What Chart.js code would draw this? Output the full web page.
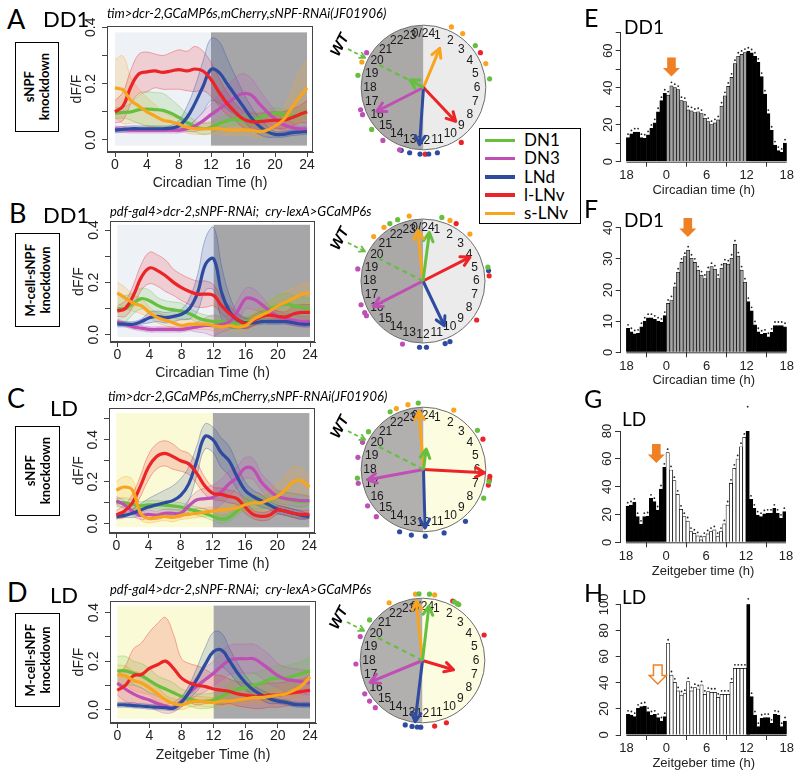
<!DOCTYPE html>
<html><head><meta charset="utf-8">
<script src="https://cdn.jsdelivr.net/npm/chart.js@4.4.1/dist/chart.umd.min.js"></script>
<style>
body{margin:0;background:#fff;}
#fig{position:relative;width:800px;height:776px;overflow:hidden;background:#fff;font-family:"Liberation Sans",Arial,sans-serif;}
.t{position:absolute;white-space:nowrap;line-height:1;color:#000;}
.lab{font-family:Lato,"Open Sans",sans-serif;}
.sub{font-family:Lato,"Open Sans",sans-serif;font-style:italic;font-size:13px;}
.kbox{position:absolute;border:1.5px solid #000;box-sizing:border-box;display:flex;align-items:center;justify-content:center;background:#fff;}
.kbox div{writing-mode:vertical-rl;transform:rotate(180deg);font-family:Lato,"Open Sans",sans-serif;font-weight:bold;font-size:13px;line-height:15px;text-align:center;}
</style></head><body><div id="fig"></div>
<script>
// ---------------- DATA ----------------
const hours = [0,1,2,3,4,5,6,7,8,9,10,11,12,13,14,15,16,17,18,19,20,21,22,23,24];
const seriesNames = ['DN1','DN3','LNd','l-LNv','s-LNv'];
const lineXTicks = [0,4,8,12,16,20,24];

// Panel A (DD1, tim>..., sNPF knockdown)
const A_DN1  = [0.095,0.098,0.10,0.108,0.11,0.108,0.105,0.095,0.08,0.062,0.048,0.04,0.045,0.058,0.068,0.073,0.07,0.07,0.078,0.088,0.095,0.09,0.085,0.09,0.1];
const A_DN3  = [0.04,0.037,0.035,0.035,0.035,0.035,0.035,0.035,0.035,0.04,0.05,0.068,0.09,0.11,0.13,0.15,0.165,0.16,0.13,0.1,0.075,0.055,0.045,0.04,0.04];
const A_LNd  = [0.035,0.038,0.04,0.04,0.04,0.04,0.04,0.042,0.05,0.08,0.13,0.19,0.25,0.24,0.2,0.16,0.12,0.08,0.05,0.03,0.02,0.02,0.025,0.028,0.03];
const A_lLNv = [0.1,0.12,0.19,0.235,0.242,0.245,0.24,0.245,0.25,0.245,0.252,0.245,0.215,0.17,0.13,0.1,0.075,0.065,0.065,0.068,0.07,0.07,0.078,0.09,0.1];
const A_sLNv = [0.185,0.178,0.14,0.12,0.1,0.085,0.07,0.065,0.056,0.045,0.04,0.04,0.04,0.04,0.036,0.035,0.036,0.035,0.03,0.035,0.05,0.07,0.11,0.15,0.185];
const A_semDN1  = [0.02,0.02,0.03,0.05,0.06,0.06,0.06,0.05,0.04,0.03,0.02,0.02,0.02,0.02,0.02,0.02,0.02,0.02,0.02,0.02,0.02,0.02,0.02,0.02,0.02];
const A_semDN3  = [0.01,0.01,0.01,0.01,0.01,0.01,0.01,0.01,0.01,0.01,0.02,0.03,0.04,0.05,0.06,0.07,0.07,0.06,0.05,0.04,0.03,0.02,0.02,0.01,0.01];
const A_semLNd  = [0.01,0.01,0.01,0.01,0.01,0.01,0.01,0.01,0.02,0.04,0.06,0.09,0.11,0.11,0.09,0.07,0.05,0.04,0.03,0.02,0.01,0.01,0.01,0.01,0.01];
const A_semlLNv = [0.04,0.05,0.06,0.07,0.07,0.06,0.06,0.065,0.07,0.07,0.08,0.07,0.06,0.05,0.04,0.03,0.03,0.03,0.03,0.03,0.03,0.03,0.03,0.03,0.04];
const A_semsLNv = [0.1,0.12,0.08,0.06,0.05,0.04,0.03,0.02,0.02,0.02,0.02,0.02,0.02,0.02,0.02,0.02,0.02,0.02,0.02,0.02,0.03,0.04,0.06,0.09,0.1];

// Panel B (DD1, pdf-gal4>..., M-cell-sNPF knockdown)
const B_DN1  = [0.1,0.1,0.12,0.138,0.13,0.112,0.1,0.095,0.09,0.08,0.065,0.055,0.05,0.05,0.045,0.04,0.05,0.06,0.08,0.1,0.11,0.118,0.11,0.105,0.1];
const B_DN3  = [0.05,0.04,0.03,0.025,0.02,0.02,0.02,0.02,0.02,0.025,0.03,0.035,0.035,0.04,0.05,0.09,0.138,0.135,0.115,0.09,0.07,0.06,0.055,0.05,0.05];
const B_LNd  = [0.04,0.04,0.04,0.05,0.065,0.07,0.065,0.07,0.078,0.1,0.16,0.27,0.29,0.16,0.087,0.055,0.045,0.045,0.05,0.05,0.05,0.05,0.045,0.04,0.04];
const B_lLNv = [0.09,0.1,0.15,0.22,0.255,0.245,0.225,0.2,0.18,0.165,0.155,0.155,0.15,0.11,0.08,0.058,0.042,0.055,0.07,0.075,0.07,0.068,0.08,0.085,0.085];
const B_sLNv = [0.16,0.14,0.12,0.11,0.085,0.065,0.055,0.045,0.035,0.04,0.04,0.04,0.035,0.03,0.035,0.03,0.035,0.06,0.075,0.09,0.11,0.125,0.14,0.155,0.16];
const B_semDN1  = [0.05,0.05,0.04,0.04,0.04,0.03,0.03,0.03,0.03,0.02,0.02,0.02,0.02,0.02,0.02,0.02,0.02,0.02,0.03,0.03,0.04,0.04,0.04,0.04,0.04];
const B_semDN3  = [0.01,0.01,0.01,0.01,0.01,0.01,0.01,0.01,0.01,0.01,0.02,0.03,0.04,0.03,0.03,0.04,0.04,0.04,0.03,0.02,0.02,0.02,0.02,0.02,0.02];
const B_semLNd  = [0.01,0.01,0.01,0.01,0.02,0.02,0.02,0.02,0.02,0.04,0.07,0.1,0.12,0.1,0.06,0.03,0.02,0.01,0.01,0.01,0.01,0.01,0.01,0.01,0.01];
const B_semlLNv = [0.02,0.03,0.04,0.05,0.06,0.06,0.06,0.05,0.05,0.05,0.05,0.05,0.04,0.03,0.03,0.02,0.02,0.02,0.02,0.02,0.02,0.02,0.03,0.03,0.03];
const B_semsLNv = [0.04,0.04,0.03,0.03,0.02,0.02,0.02,0.02,0.02,0.02,0.02,0.02,0.02,0.02,0.02,0.02,0.02,0.03,0.03,0.04,0.04,0.04,0.04,0.04,0.04];

// Panel C (LD, tim>..., sNPF knockdown)
const C_DN1  = [0.1,0.1,0.092,0.085,0.09,0.09,0.088,0.085,0.08,0.07,0.06,0.05,0.035,0.022,0.03,0.06,0.095,0.1,0.1,0.11,0.125,0.12,0.11,0.105,0.105];
const C_DN3  = [0.11,0.09,0.06,0.04,0.045,0.04,0.05,0.05,0.05,0.085,0.114,0.12,0.125,0.15,0.19,0.22,0.265,0.26,0.2,0.16,0.13,0.12,0.115,0.11,0.11];
const C_LNd  = [0.035,0.04,0.05,0.065,0.08,0.09,0.1,0.11,0.135,0.19,0.3,0.415,0.4,0.34,0.3,0.225,0.16,0.13,0.11,0.09,0.07,0.06,0.05,0.04,0.035];
const C_lLNv = [0.043,0.06,0.1,0.18,0.27,0.32,0.335,0.32,0.3,0.285,0.24,0.18,0.145,0.14,0.13,0.12,0.08,0.045,0.035,0.04,0.065,0.06,0.05,0.045,0.045];
const C_sLNv = [0.16,0.175,0.16,0.05,0.025,0.03,0.035,0.03,0.04,0.045,0.05,0.055,0.06,0.065,0.07,0.075,0.09,0.1,0.1,0.115,0.13,0.16,0.2,0.205,0.175];
const C_semDN1  = [0.02,0.02,0.02,0.02,0.02,0.02,0.02,0.02,0.02,0.02,0.02,0.02,0.02,0.02,0.02,0.02,0.03,0.03,0.03,0.03,0.03,0.03,0.03,0.03,0.03];
const C_semDN3  = [0.02,0.02,0.02,0.02,0.02,0.02,0.02,0.02,0.02,0.03,0.04,0.05,0.06,0.06,0.06,0.05,0.05,0.05,0.04,0.04,0.03,0.03,0.03,0.03,0.02];
const C_semLNd  = [0.01,0.01,0.02,0.03,0.04,0.05,0.06,0.07,0.08,0.08,0.07,0.06,0.06,0.07,0.07,0.06,0.04,0.03,0.03,0.02,0.02,0.02,0.02,0.02,0.01];
const C_semlLNv = [0.02,0.03,0.04,0.05,0.06,0.06,0.06,0.06,0.05,0.05,0.05,0.04,0.03,0.03,0.03,0.03,0.03,0.02,0.02,0.02,0.02,0.02,0.02,0.02,0.02];
const C_semsLNv = [0.04,0.05,0.05,0.03,0.02,0.02,0.02,0.02,0.02,0.02,0.02,0.02,0.02,0.02,0.02,0.02,0.03,0.04,0.04,0.05,0.06,0.07,0.07,0.06,0.05];

// Panel D (LD, pdf-gal4>..., M-cell-sNPF knockdown)
const D_DN1  = [0.16,0.16,0.15,0.14,0.12,0.1,0.085,0.07,0.055,0.045,0.035,0.035,0.04,0.055,0.07,0.085,0.09,0.1,0.11,0.125,0.13,0.13,0.14,0.15,0.16];
const D_DN3  = [0.11,0.085,0.065,0.05,0.04,0.025,0.015,0.01,0.034,0.07,0.1,0.125,0.15,0.18,0.205,0.21,0.21,0.21,0.19,0.165,0.14,0.125,0.12,0.115,0.11];
const D_LNd  = [0.02,0.02,0.017,0.015,0.012,0.01,0.008,0.006,0.03,0.075,0.13,0.19,0.24,0.245,0.2,0.15,0.11,0.08,0.06,0.045,0.035,0.03,0.022,0.02,0.02];
const D_lLNv = [0.08,0.1,0.14,0.145,0.17,0.185,0.2,0.17,0.13,0.11,0.1,0.095,0.085,0.08,0.075,0.065,0.06,0.055,0.055,0.06,0.06,0.065,0.07,0.075,0.08];
const D_sLNv = [0.144,0.14,0.12,0.11,0.09,0.065,0.04,0.025,0.02,0.03,0.035,0.032,0.03,0.035,0.035,0.04,0.045,0.05,0.05,0.055,0.06,0.065,0.08,0.1,0.135];
const D_semDN1  = [0.06,0.06,0.05,0.05,0.05,0.04,0.04,0.04,0.03,0.03,0.03,0.03,0.03,0.03,0.04,0.05,0.05,0.05,0.05,0.05,0.05,0.05,0.05,0.05,0.06];
const D_semDN3  = [0.05,0.05,0.04,0.04,0.03,0.03,0.03,0.02,0.02,0.03,0.04,0.05,0.05,0.06,0.06,0.06,0.06,0.06,0.06,0.06,0.05,0.05,0.05,0.05,0.05];
const D_semLNd  = [0.01,0.01,0.01,0.01,0.01,0.01,0.01,0.01,0.02,0.03,0.05,0.07,0.08,0.07,0.05,0.04,0.03,0.02,0.02,0.02,0.01,0.01,0.01,0.01,0.01];
const D_semlLNv = [0.06,0.08,0.11,0.13,0.15,0.17,0.18,0.14,0.08,0.08,0.08,0.07,0.06,0.06,0.05,0.05,0.05,0.05,0.05,0.05,0.05,0.05,0.05,0.05,0.06];
const D_semsLNv = [0.04,0.04,0.04,0.04,0.03,0.03,0.02,0.02,0.02,0.02,0.02,0.02,0.02,0.02,0.02,0.02,0.02,0.02,0.02,0.02,0.03,0.03,0.03,0.04,0.04];

// Phase clocks: order DN1, DN3, LNd, l-LNv, s-LNv (phase in h, vector length 0..1)
const clockHourLabels = ['0/24','1','2','3','4','5','6','7','8','9','10','11','12','13','14','15','16','17','18','19','20','21','22','23'];
const wtPhase = 19.8, wtLength = 0.8;
const clockA_phase = [19.9,16.2,12.26,9.1,1.5];
const clockA_len   = [0.25,0.84,0.92,0.75,0.68];
const clockA_dots  = [[3.4,5.5,18.7,15.4],[20.1,16.7,16.4,14.5,13.4],[13.3,12.8,12.2,11.7,11.2],[3.9,9.7,11.9],[1.65,2.4,4.6,19.5]];
const clockB_phase = [0.5,16.2,10.3,4.2,23.6];
const clockB_len   = [0.79,0.9,0.8,0.85,0.82];
const clockB_dots  = [[1.1,22.0,22.5,5.2],[18.7,16.6,16.1,15.9,13.2],[5.4,10.7,10.4,12.2,11.8],[2.0,5.7,8.4],[23.2,1.6,3.0,21.6,20.8]];
const clockC_phase = [0.5,17.3,11.9,6.2,23.7];
const clockC_len   = [0.33,0.91,0.94,0.98,0.94];
const clockC_dots  = [[22.0,23.7,3.6,6.7,7.7,20.3,17.5],[19.6,18.7,17.2,15.8,15.0],[9.4,10.8,11.9,12.7,13.4],[4.2,6.4,6.6,6.9],[23.1,22.4,1.8]];
const clockD_phase = [0.45,16.5,12.46,7.1,23.6];
const clockD_len   = [0.88,0.91,0.99,0.52,0.96];
const clockD_dots  = [[23.8,0.4,1.9,2.1,2.2,20.5],[19.4,17.8,16.0,15.5,15.0],[13.0,12.6,12.3,12.1],[1.8,4.5,10.6,11.3],[22.0,23.6,0.7]];

// Activity histograms: 48 half-hour bins from 18 h (previous day) to 18 h
const histXTickPos = [0,12,24,36,48];
const histXTickLabels = ['18','0','6','12','18'];
const histE = [13,15,16,16,13,12.7,14.5,18,21,27,33,37, 36,41,40,39,33,32.5,28,27.5,26.6,27,26,23.5, 21.7,20,21,22.6,30,35.6,40.7,45.6,53,57,58,59, 59.7,58.8,57,53.7,46,36.5,26,17,9,6,5,10];
const histF = [7.7,6.6,5.9,6.1,8.2,10,11.1,11.1,10.6,10,9.6,11.8, 15.7,16.8,21,25.7,28.9,30.7,32.8,30.2,28.9,26.4,24.8,23.7, 26.1,27.5,26.7,23.7,27,28.6,28.3,30.2,34.7,30.9,26.4,22.5, 16.3,13.3,8.8,6.6,5.8,6.1,5,6.4,8.6,8.6,8.6,8.2];
const histG = [26,26.8,28.7,18.4,12.9,18.4,18.9,31.6,29.2,23.2,38.3,53.9, 64.4,52,44.3,34.5,23.7,18.4,15.3,7.7,6.5,4.6,1.7,4.1, 6,7.7,8.9,4.1,7.7,13.2,26.8,42.4,53.2,59.9,68.7,75.4, 95,30.9,24.4,19.6,18.4,20.4,20.8,20.8,24.4,20.8,17.2,22];
const histH = [15.8,15.3,14,20.4,21.7,22.2,17.9,15.3,15.8,13.3,10.7,14, 70.2,45.9,40.3,33.7,30.6,31.6,40.8,33.7,36.2,35.2,38.3,31.1, 33.2,32.7,32.7,28.8,31.1,31.1,31.1,40.3,51,51,51,51, 101.5,29.3,15.3,6.4,12.8,13.3,13.3,8.9,15.8,15.3,6.4,10.7];
// orange arrows: [hour, activity at arrow tip]
const arrowE = [0.75,46], arrowF = [3.2,37], arrowG = [-1.45,57], arrowH = [-1.3,39];

// ---------------- STYLE / HELPERS ----------------
const seriesColors = ['#66bf3e','#bf4fb5','#2e4b9f','#ec2327','#f8a41c'];
const seriesRGB = [[102,191,62],[191,79,181],[46,75,159],[236,35,39],[248,164,28]];
const rgba = (k,a)=>`rgba(${seriesRGB[k].join(',')},${a})`;
Chart.defaults.font.family = '"Liberation Sans", Arial, sans-serif';
Chart.defaults.color = '#222';
const fig = document.getElementById('fig');
function addDiv(l,t,w,h){const d=document.createElement('div');d.style.cssText=`position:absolute;left:${l}px;top:${t}px;width:${w}px;height:${h}px;`;fig.appendChild(d);return d;}
function addCanvas(l,t,w,h){const d=addDiv(l,t,w,h);const c=document.createElement('canvas');c.width=w;c.height=h;c.style.width=w+'px';c.style.height=h+'px';d.appendChild(c);return c;}
function txt(s,l,t,cls,css){const d=document.createElement('div');d.className='t '+(cls||'');d.textContent=s;d.style.left=l+'px';d.style.top=t+'px';if(css)d.style.cssText+=css;fig.appendChild(d);return d;}

function makeLineChart(p){
  const W=p.div.w,H=p.div.h;
  const cv=addCanvas(p.div.l,p.div.t,W,H);
  const yW=p.area.l-p.div.l, padT=p.area.t-p.div.t, padR=p.div.l+W-p.area.r, xH=p.div.t+H-p.area.b;
  const ds=[];
  p.series.forEach((vals,k)=>{
    ds.push({label:seriesNames[k],data:hours.map((h,i)=>({x:h,y:vals[i]})),borderColor:seriesColors[k],borderWidth:3.2,pointRadius:0,tension:0.4,fill:false,order:5-k});
  });
  p.series.forEach((vals,k)=>{
    const s=p.sems[k];
    ds.push({label:seriesNames[k]+' upper',data:hours.map((h,i)=>({x:h,y:vals[i]+s[i]})),borderColor:rgba(k,0.45),borderWidth:0.8,backgroundColor:rgba(k,0.17),fill:'+1',pointRadius:0,tension:0.4,order:10});
    ds.push({label:seriesNames[k]+' lower',data:hours.map((h,i)=>({x:h,y:vals[i]-s[i]})),borderColor:rgba(k,0.45),borderWidth:0.8,fill:false,pointRadius:0,tension:0.4,order:10});
  });
  const lh=14*1.2;
  const shade={id:'shade',beforeDatasetsDraw(c){
    const {ctx,scales:{x,y}}=c;ctx.save();
    const y0=y.getPixelForValue(p.shadeY[1]), y1=y.getPixelForValue(p.shadeY[0]);
    ctx.fillStyle=p.dayColor;ctx.fillRect(x.getPixelForValue(0),y0,x.getPixelForValue(12)-x.getPixelForValue(0),y1-y0);
    ctx.fillStyle=p.nightColor;ctx.fillRect(x.getPixelForValue(12),y0,x.getPixelForValue(24)-x.getPixelForValue(12),y1-y0);
    ctx.restore();
  },afterDraw(c){const {ctx,chartArea:a}=c;ctx.save();ctx.strokeStyle='#444';ctx.lineWidth=1;ctx.strokeRect(a.left+0.5,a.top+0.5,a.right-a.left-1,a.bottom-a.top-1);ctx.restore();}};
  new Chart(cv,{type:'line',data:{datasets:ds},plugins:[shade],options:{
    responsive:false,animation:false,events:[],
    layout:{padding:{top:padT,right:padR,left:0,bottom:0}},
    plugins:{legend:{display:false},tooltip:{enabled:false}},
    scales:{
      x:{type:'linear',min:p.xRange[0],max:p.xRange[1],
        afterBuildTicks:s=>{s.ticks=lineXTicks.map(v=>({value:v}));},
        afterFit:s=>{s.height=xH;s.paddingLeft=0;s.paddingRight=0;},
        grid:{drawOnChartArea:false,drawTicks:true,tickLength:5,color:'#444'},
        border:{display:true,color:'#444'},
        ticks:{font:{size:14},padding:0,maxRotation:0,autoSkip:false,color:'#222'},
        title:{display:true,text:p.xTitle,font:{size:14},color:'#222',padding:{top:0,bottom:H-lh/2-(p.xTitleY-p.div.t)}}},
      y:{type:'linear',min:p.yRange[0],max:p.yRange[1],
        afterBuildTicks:s=>{s.ticks=p.yTicks.map(v=>({value:v}));},
        afterFit:s=>{s.width=yW;s.paddingTop=0;s.paddingBottom=0;},
        grid:{drawOnChartArea:false,drawTicks:true,tickLength:5,color:'#444'},
        border:{display:true,color:'#444'},
        ticks:{font:{size:14},padding:1,minRotation:90,maxRotation:90,crossAlign:'center',autoSkip:false,color:'#222',callback:(v,i)=>p.yTickLabels[i]},
        title:{display:true,text:'dF/F',font:{size:14},color:'#222',padding:{top:(p.yTitleX-p.div.l)-lh/2,bottom:0}}}
    }}});
}

function makeClock(p){
  const R=1.5, half=R*p.rad, size=Math.round(2*half);
  const cv=addCanvas(Math.round(p.cx-half),Math.round(p.cy-half),size,size);
  const pol=(h,r)=>({x:r*Math.sin(h/24*2*Math.PI),y:r*Math.cos(h/24*2*Math.PI)});
  const ds=[];
  p.dots.forEach((arr,k)=>ds.push({type:'scatter',data:arr.map(h=>pol(h,1.07)),pointRadius:2.6,pointBackgroundColor:seriesColors[k],pointBorderWidth:0,showLine:false}));
  ds.push({data:[pol(wtPhase,0),pol(wtPhase,wtLength)],showLine:true,borderColor:seriesColors[0],borderWidth:2.2,borderDash:[5,4],pointRadius:0});
  ds.push({data:[pol(wtPhase,1.36),pol(wtPhase,1.05)],showLine:true,borderColor:seriesColors[0],borderWidth:1.8,borderDash:[4,3],pointRadius:0,arrowHead:6});
  p.phase.forEach((h,k)=>ds.push({data:[pol(h,0),pol(h,p.len[k])],showLine:true,borderColor:seriesColors[k],borderWidth:3,pointRadius:0,arrowHead:10}));
  const face={id:'face',beforeDatasetsDraw(c){
    const {ctx,scales:{x,y}}=c;const cx=x.getPixelForValue(0),cy=y.getPixelForValue(0),r=x.getPixelForValue(1)-cx;
    ctx.save();
    ctx.beginPath();ctx.moveTo(cx,cy);ctx.arc(cx,cy,r,Math.PI/2,3*Math.PI/2);ctx.closePath();ctx.fillStyle=p.dark;ctx.fill();
    ctx.beginPath();ctx.moveTo(cx,cy);ctx.arc(cx,cy,r,-Math.PI/2,Math.PI/2);ctx.closePath();ctx.fillStyle=p.light;ctx.fill();
    ctx.beginPath();ctx.arc(cx,cy,r,0,2*Math.PI);ctx.strokeStyle='#6d6d6d';ctx.lineWidth=1;ctx.stroke();
    ctx.fillStyle='#1a1a1a';ctx.font='12px "Liberation Sans", Arial';ctx.textAlign='center';ctx.textBaseline='middle';
    clockHourLabels.forEach((lab,h)=>{const q=pol(h,0.86);ctx.fillText(lab,x.getPixelForValue(q.x),y.getPixelForValue(q.y));});
    ctx.restore();
  },afterDatasetsDraw(c){
    const {ctx,scales:{x,y}}=c;ctx.save();
    c.data.datasets.forEach((d,i)=>{if(!d.arrowHead)return;const m=c.getDatasetMeta(i);const a=m.data[0],b=m.data[m.data.length-1];
      const ang=Math.atan2(b.y-a.y,b.x-a.x),L=d.arrowHead;ctx.setLineDash([]);ctx.strokeStyle=d.borderColor;ctx.lineWidth=d.borderWidth;ctx.lineCap='round';ctx.lineJoin='round';
      ctx.beginPath();ctx.moveTo(b.x-L*Math.cos(ang-0.5),b.y-L*Math.sin(ang-0.5));ctx.lineTo(b.x,b.y);ctx.lineTo(b.x-L*Math.cos(ang+0.5),b.y-L*Math.sin(ang+0.5));ctx.stroke();});
    const q=pol(wtPhase,1.5);ctx.translate(x.getPixelForValue(q.x),y.getPixelForValue(q.y));ctx.rotate(wtPhase/24*2*Math.PI);
    ctx.font='italic bold 15px "Liberation Sans", Arial';ctx.fillStyle='#000';ctx.textAlign='center';ctx.textBaseline='middle';ctx.fillText('WT',0,0);
    ctx.restore();
  }};
  new Chart(cv,{type:'scatter',data:{datasets:ds},plugins:[face],options:{responsive:false,animation:false,events:[],layout:{padding:0},
    plugins:{legend:{display:false},tooltip:{enabled:false}},
    scales:{x:{type:'linear',min:-R,max:R,display:false},y:{type:'linear',min:-R,max:R,display:false}}}});
}

function makeHist(p){
  const W=p.div.w,H=p.div.h;
  const cv=addCanvas(p.div.l,p.div.t,W,H);
  const yW=p.area.l-p.div.l, padT=p.area.t-p.div.t, padR=p.div.l+W-p.area.r, xH=p.div.t+H-p.area.b;
  const lh=13*1.2;
  const isDay=i=>i>=12&&i<36;
  const extra={id:'extra',afterDatasetsDraw(c){
    const {ctx,scales:{x,y},chartArea:a}=c;ctx.save();
    c.getDatasetMeta(0).data.forEach(el=>{ctx.beginPath();ctx.arc(el.x,el.y-3.5,0.9,0,2*Math.PI);ctx.fillStyle='#222';ctx.fill();});
    ctx.strokeStyle='#333';ctx.lineWidth=1;ctx.beginPath();ctx.moveTo(x.getPixelForValue(histXTickPos[0]),a.bottom+0.5);ctx.lineTo(x.getPixelForValue(histXTickPos[histXTickPos.length-1]),a.bottom+0.5);ctx.stroke();
    const ax=x.getPixelForValue((p.arrow[0]+6)*2), ay=y.getPixelForValue(p.arrow[1]);
    ctx.beginPath();ctx.moveTo(ax,ay);ctx.lineTo(ax-8.5,ay-8.5);ctx.lineTo(ax-4.3,ay-8.5);ctx.lineTo(ax-4.3,ay-19);ctx.lineTo(ax+4.3,ay-19);ctx.lineTo(ax+4.3,ay-8.5);ctx.lineTo(ax+8.5,ay-8.5);ctx.closePath();
    if(p.arrowFilled){ctx.fillStyle='#f08024';ctx.fill();}else{ctx.fillStyle='#fff';ctx.fill();ctx.strokeStyle='#f08024';ctx.lineWidth=1.5;ctx.stroke();}
    ctx.restore();
  }};
  new Chart(cv,{type:'bar',data:{datasets:[{label:'activity',data:p.values.map((v,i)=>({x:i+0.5,y:v})),backgroundColor:p.values.map((v,i)=>isDay(i)?p.dayFill:'#000'),borderColor:'#000',borderWidth:0.7,barPercentage:1,categoryPercentage:1}]},plugins:[extra],options:{
    responsive:false,animation:false,events:[],
    layout:{padding:{top:padT,right:padR,left:0,bottom:0}},
    plugins:{legend:{display:false},tooltip:{enabled:false}},
    scales:{
      x:{type:'linear',min:p.xMin,max:48,offset:false,
        afterBuildTicks:s=>{s.ticks=histXTickPos.map(v=>({value:v}));},
        afterFit:s=>{s.height=xH;s.paddingLeft=0;s.paddingRight=0;},
        grid:{drawOnChartArea:false,drawTicks:true,tickLength:5,color:'#333'},
        border:{display:false},
        ticks:{font:{size:13},padding:1,maxRotation:0,autoSkip:false,color:'#222',callback:(v,i)=>histXTickLabels[i]},
        title:{display:true,text:p.xTitle,font:{size:13},color:'#222',padding:{top:0,bottom:H-lh/2-(p.xTitleY-p.div.t)}}},
      y:{type:'linear',min:0,max:p.yMax,
        afterBuildTicks:s=>{s.ticks=p.yTicks.map(v=>({value:v}));},
        afterFit:s=>{s.width=yW;s.paddingTop=0;s.paddingBottom=0;},
        grid:{drawOnChartArea:false,drawTicks:true,tickLength:5,color:'#333'},
        border:{display:true,color:'#333'},
        ticks:{font:{size:13},padding:0,minRotation:90,maxRotation:90,crossAlign:'center',autoSkip:false,color:'#222',callback:(v,i)=>p.yTickLabels[i]}}
    }}});
}

// ---------------- BUILD ----------------
const yT4=[0,0.1,0.2,0.3,0.4], yL4=['0.0','','0.2','','0.4'];
const yT5=[0,0.1,0.2,0.3,0.4,0.5], yL5=['0.0','','0.2','','0.4',''];
makeLineChart({div:{l:55,t:18,w:265,h:180},area:{l:107,t:26,r:313,b:152},xRange:[-1.0,24.75],yRange:[-0.0426,0.4046],yTicks:yT4,yTickLabels:yL4,
  series:[A_DN1,A_DN3,A_LNd,A_lLNv,A_sLNv],sems:[A_semDN1,A_semDN3,A_semLNd,A_semlLNv,A_semsLNv],shadeY:[-0.02,0.382],dayColor:'#eef1f6',nightColor:'#a6a6a9',xTitle:'Circadian Time (h)',xTitleY:183,yTitleX:77});
makeLineChart({div:{l:55,t:213,w:265,h:180},area:{l:110,t:221,r:315,b:342},xRange:[-0.91,24.62],yRange:[-0.028,0.4345],yTicks:yT4,yTickLabels:yL4,
  series:[B_DN1,B_DN3,B_LNd,B_lLNv,B_sLNv],sems:[B_semDN1,B_semDN3,B_semLNd,B_semlLNv,B_semsLNv],shadeY:[-0.009,0.42],dayColor:'#eef1f6',nightColor:'#a6a6a9',xTitle:'Circadian Time (h)',xTitleY:373,yTitleX:79});
makeLineChart({div:{l:55,t:400,w:265,h:180},area:{l:109,t:408,r:315,b:533},xRange:[-0.92,24.7],yRange:[-0.044,0.551],yTicks:yT5,yTickLabels:yL5,
  series:[C_DN1,C_DN3,C_LNd,C_lLNv,C_sLNv],sems:[C_semDN1,C_semDN3,C_semLNd,C_semlLNv,C_semsLNv],shadeY:[-0.017,0.527],dayColor:'#fbfad6',nightColor:'#a9a9ab',xTitle:'Zeitgeber Time (h)',xTitleY:564,yTitleX:79});
makeLineChart({div:{l:55,t:593,w:265,h:180},area:{l:110,t:601,r:316,b:723},xRange:[-0.91,24.75],yRange:[-0.055,0.448],yTicks:yT4,yTickLabels:yL4,
  series:[D_DN1,D_DN3,D_LNd,D_lLNv,D_sLNv],sems:[D_semDN1,D_semDN3,D_semLNd,D_semlLNv,D_semsLNv],shadeY:[-0.037,0.429],dayColor:'#fbfad6',nightColor:'#a9a9ab',xTitle:'Zeitgeber Time (h)',xTitleY:755,yTitleX:79});

makeClock({cx:423.3,cy:87.3,rad:65,phase:clockA_phase,len:clockA_len,dots:clockA_dots,dark:'#aba8a8',light:'#ebebeb'});
makeClock({cx:422.7,cy:280.7,rad:64.5,phase:clockB_phase,len:clockB_len,dots:clockB_dots,dark:'#aba8a8',light:'#ebebeb'});
makeClock({cx:423,cy:469.3,rad:65,phase:clockC_phase,len:clockC_len,dots:clockC_dots,dark:'#b2afaf',light:'#fcfce0'});
makeClock({cx:422.7,cy:660,rad:65,phase:clockD_phase,len:clockD_len,dots:clockD_dots,dark:'#b2afaf',light:'#fcfce0'});

makeHist({div:{l:588,t:15,w:207,h:185},area:{l:620.7,t:32.2,r:786.7,b:161.7},xMin:-1.7,values:histE,yMax:70,yTicks:[0,10,20,30,40,50,60,70],yTickLabels:['0','','20','','40','','60',''],dayFill:'#a3a3a3',arrow:arrowE,arrowFilled:true,xTitle:'Circadian time (h)',xTitleY:190});
makeHist({div:{l:588,t:210,w:207,h:180},area:{l:620.7,t:227.7,r:786.7,b:352.3},xMin:-1.7,values:histF,yMax:40,yTicks:[0,10,20,30,40],yTickLabels:['0','10','20','30','40'],dayFill:'#a3a3a3',arrow:arrowF,arrowFilled:true,xTitle:'Circadian time (h)',xTitleY:380});
makeHist({div:{l:588,t:400,w:207,h:185},area:{l:620,t:431,r:786,b:542.3},xMin:-1.8,values:histG,yMax:80,yTicks:[0,20,40,60,80],yTickLabels:['0','20','40','60','80'],dayFill:'#ffffff',arrow:arrowG,arrowFilled:true,xTitle:'Zeitgeber time (h)',xTitleY:571.5});
makeHist({div:{l:588,t:590,w:207,h:185},area:{l:620.7,t:604.3,r:786.7,b:735},xMin:-1.7,values:histH,yMax:100,yTicks:[0,20,40,60,80,100],yTickLabels:['0','20','40','60','80','100'],dayFill:'#ffffff',arrow:arrowH,arrowFilled:false,xTitle:'Zeitgeber time (h)',xTitleY:763});

// ---------------- TEXT OVERLAYS ----------------
[['A',7,5],['B',9,199],['C',7,384],['D',7,578]].forEach(a=>txt(a[0],a[1],a[2],'lab','font-size:27px;'));
txt('DD1',43,8,'lab','font-size:22px;');txt('DD1',43,204,'lab','font-size:22px;');
txt('LD',50,397,'lab','font-size:22px;');txt('LD',50,584,'lab','font-size:22px;');
txt('tim>dcr-2,GCaMP6s,mCherry,sNPF-RNAi(JF01906)',107,7,'sub');
txt('pdf-gal4>dcr-2,sNPF-RNAi;  cry-lexA>GCaMP6s',110,205,'sub','white-space:pre;');
txt('tim>dcr-2,GCaMP6s,mCherry,sNPF-RNAi(JF01906)',108,390,'sub');
txt('pdf-gal4>dcr-2,sNPF-RNAi;  cry-lexA>GCaMP6s',110,583,'sub','white-space:pre;');
function kbox(l,t,w,h,lines){const b=document.createElement('div');b.className='kbox';b.style.cssText+=`left:${l}px;top:${t}px;width:${w}px;height:${h}px;`;const i=document.createElement('div');i.innerHTML=lines.join('<br>');b.appendChild(i);fig.appendChild(b);}
kbox(15,42,44,90,['sNPF','knockdown']);
kbox(15,233,45,94,['M-cell-sNPF','knockdown']);
kbox(15,426,45,90,['sNPF','knockdown']);
kbox(15,613,45,94,['M-cell-sNPF','knockdown']);
// legend
const lg=addDiv(479,128,102,96);lg.style.border='1.5px solid #000';lg.style.boxSizing='border-box';lg.style.background='#fff';
seriesNames.forEach((n,k)=>{const y=11+k*18.3;const ln=document.createElement('div');ln.style.cssText=`position:absolute;left:5px;top:${y-1.5}px;width:30px;height:3.5px;background:${seriesColors[k]};`;lg.appendChild(ln);
  const tx=document.createElement('div');tx.textContent=n;tx.style.cssText=`position:absolute;left:44px;top:${y-10}px;font-family:Lato,sans-serif;font-size:17px;line-height:20px;`;lg.appendChild(tx);});
[['E',584,5],['F',584,196],['G',584,386],['H',584,580]].forEach(a=>txt(a[0],a[1],a[2],'lab','font-size:25px;'));
txt('DD1',624,17,'lab','font-size:19px;');txt('DD1',624,210,'lab','font-size:19px;');
txt('LD',622,409,'lab','font-size:19px;');txt('LD',622,587,'lab','font-size:19px;');
</script></body></html>
